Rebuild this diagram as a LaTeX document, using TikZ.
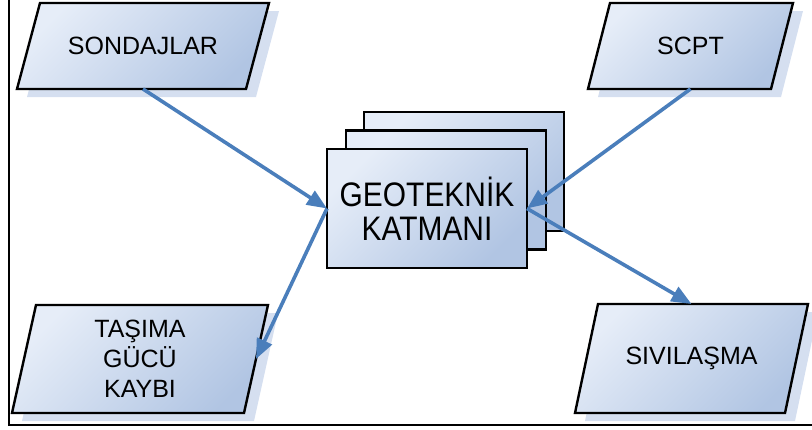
\documentclass[tikz,border=0pt]{standalone}
\usepackage{fontspec}
\setmainfont{Liberation Sans}
\newfontfamily\layerfont[FakeStretch=0.88]{Liberation Sans}
\usetikzlibrary{shadows,arrows.meta,backgrounds}

\definecolor{fillLite}{HTML}{E6EDF8}
\definecolor{fillDark}{HTML}{B1C5E3}
\definecolor{shadowBlue}{HTML}{D5DFF0}
\definecolor{arrowBlue}{HTML}{4A7EBB}

% slanted data box drawn around a named text node (#1), top edge shifted by 2*#2
\newcommand{\slantedbox}[2]{%
  \path[boxshape] ([xshift=#2]#1.north west) -- ([xshift=#2]#1.north east)
    -- ([xshift=-#2]#1.south east) -- ([xshift=-#2]#1.south west) -- cycle;}

\begin{document}
\begin{tikzpicture}[x=1pt,y=-1pt,
  gradfill/.style={draw=black, line width=2.4pt, top color=fillLite,
    bottom color=fillDark, shading angle=45},
  boxshape/.style={gradfill, line join=miter,
    drop shadow={shadow xshift=10pt, shadow yshift=-8pt,
      fill=shadowBlue, opacity=1, draw=none}},
  boxtext/.style={rectangle, draw=none, inner sep=0pt, outer sep=0pt,
    align=center, font=\fontsize{25}{30}\selectfont},
  layer/.style={gradfill, rectangle, minimum width=200pt,
    minimum height=119pt, inner sep=0pt, outer sep=0pt, align=center,
    font=\layerfont\fontsize{34}{34}\selectfont},
  flow/.style={draw=arrowBlue, line width=3.6pt,
    -{Triangle[length=20pt,width=16pt]}}
]
\useasboundingbox (0,0) rectangle (812,429);

% open frame: left and bottom edges
\draw[line width=2.4pt] (9,-2) -- (9,425) -- (814,425);

% input / output data boxes (text nodes, outlines behind them)
\node[boxtext, minimum width=229pt, minimum height=86pt] (sond) at (143,46) {SONDAJLAR};
\node[boxtext, minimum width=183pt, minimum height=86pt] (scpt) at (690.5,46) {SCPT};
\node[boxtext, minimum width=232pt, minimum height=108pt] (tas) at (140,359) {TAŞIMA\\GÜCÜ\\KAYBI};
\node[boxtext, minimum width=210pt, minimum height=109pt] (siv) at (691.5,358.5) {SIVILAŞMA};
\begin{scope}[on background layer]
  \slantedbox{sond}{11.5pt}
  \slantedbox{scpt}{11pt}
  \slantedbox{tas}{12pt}
  \slantedbox{siv}{11.5pt}
\end{scope}

% stacked layer cards
\node[layer] (back) at (464,171.5) {};
\node[layer] (mid) at (446,190) {};
\node[layer] (geo) at (427,208.5) {GEOTEKNİK\\KATMANI};

% connectors
\draw[flow] (sond.south) -- (geo.west);
\draw[flow] (scpt.south) -- (geo.east);
\draw[flow] (geo.west) -- (tas.east);
\draw[flow] (geo.east) -- (siv.north);
\end{tikzpicture}
\end{document}
